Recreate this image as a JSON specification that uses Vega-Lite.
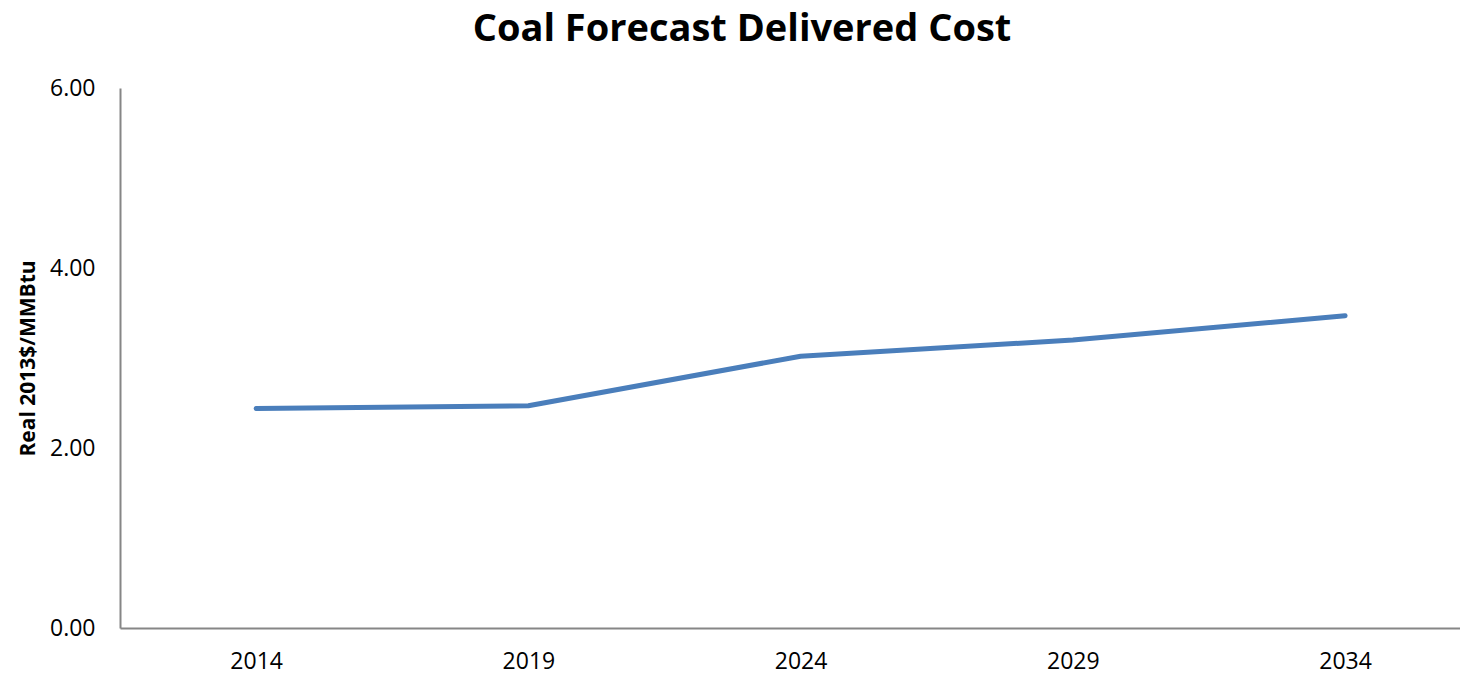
{
  "$schema": "https://vega.github.io/schema/vega-lite/v6.json",
  "autosize": "none",
  "width": 1340,
  "height": 540,
  "padding": {"left": 120, "top": 88, "right": 0, "bottom": 47},
  "background": "white",
  "view": {"stroke": null},
  "title": {
    "text": "Coal Forecast Delivered Cost",
    "font": "Open Sans",
    "fontSize": 38,
    "fontWeight": "bold",
    "color": "#000000",
    "anchor": "middle",
    "frame": "group",
    "dx": -48,
    "offset": 28
  },
  "data": {
    "values": [
      {"year": 2014, "cost": 2.44},
      {"year": 2019, "cost": 2.47},
      {"year": 2024, "cost": 3.02},
      {"year": 2029, "cost": 3.20},
      {"year": 2034, "cost": 3.47}
    ]
  },
  "mark": {"type": "line", "color": "#4A7EBB", "strokeWidth": 5, "strokeCap": "round", "strokeJoin": "round"},
  "encoding": {
    "x": {
      "field": "year",
      "type": "quantitative",
      "scale": {"domain": [2011.5, 2036.11], "nice": false, "zero": false},
      "axis": {
        "title": null,
        "values": [2014, 2019, 2024, 2029, 2034],
        "format": "d",
        "grid": false,
        "ticks": false,
        "domainColor": "#868686",
        "domainWidth": 2,
        "labelFont": "Open Sans",
        "labelFontSize": 23,
        "labelColor": "#000000",
        "labelPadding": 22
      }
    },
    "y": {
      "field": "cost",
      "type": "quantitative",
      "scale": {"domain": [0, 6], "nice": false},
      "axis": {
        "title": "Real 2013$/MMBtu",
        "values": [0, 2, 4, 6],
        "format": ".2f",
        "grid": false,
        "ticks": false,
        "domainColor": "#868686",
        "domainWidth": 2,
        "labelFont": "Open Sans",
        "labelFontSize": 23,
        "labelColor": "#000000",
        "labelPadding": 25,
        "titleFont": "Open Sans",
        "titleFontSize": 21,
        "titleFontWeight": "bold",
        "titleColor": "#000000",
        "titleX": -92,
        "titleY": 270,
        "titleAngle": -90,
        "titleAlign": "center",
        "titleBaseline": "middle"
      }
    }
  }
}
